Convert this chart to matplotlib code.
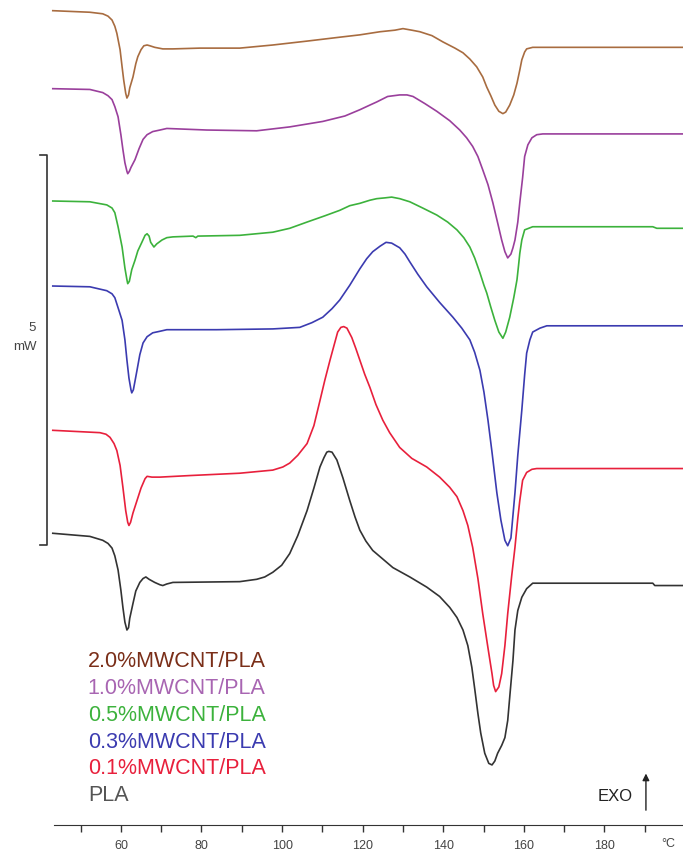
import matplotlib
matplotlib.use('Agg')
import matplotlib.pyplot as plt

plt.rcParams['font.family'] = ['Liberation Sans', 'DejaVu Sans']

# DSC heating curves: (temperature degC, heat flow mW relative to curve start)
labels = ['2.0%MWCNT/PLA', '1.0%MWCNT/PLA', '0.5%MWCNT/PLA',
          '0.3%MWCNT/PLA', '0.1%MWCNT/PLA', 'PLA']
line_colors = ['#a86c40', '#9a3f9c', '#3cb23c', '#3b3bb0', '#e8203c', '#333333']
text_colors = ['#7a2e18', '#a865b2', '#3cb23c', '#3b3bb0', '#e8203c', '#555555']

cnt_20 = [(43.1, 0), (52.3, -0.02), (55.5, -0.04), (56.8, -0.07), (57.8, -0.12), (58.5, -0.20),
          (59.0, -0.29), (59.8, -0.50), (60.3, -0.72), (60.7, -0.89), (61.2, -1.06), (61.5, -1.12),
          (61.9, -1.08), (62.2, -0.99), (63.0, -0.85), (63.7, -0.68), (64.2, -0.59), (65.0, -0.50),
          (65.7, -0.45), (66.5, -0.44), (67.2, -0.45), (68.4, -0.47), (70.4, -0.49), (72.9, -0.49),
          (79.6, -0.48), (89.5, -0.48), (97.7, -0.44), (106.2, -0.39), (114.3, -0.34), (119.3, -0.31),
          (124.3, -0.27), (128.0, -0.25), (130.0, -0.23), (132.2, -0.25), (134.2, -0.27), (137.2, -0.32),
          (139.9, -0.40), (142.9, -0.48), (144.9, -0.54), (146.6, -0.62), (148.3, -0.72), (149.8, -0.85),
          (150.8, -0.98), (151.8, -1.09), (152.8, -1.21), (153.8, -1.29), (154.8, -1.32), (155.5, -1.30),
          (156.5, -1.21), (157.5, -1.08), (158.3, -0.93), (159.0, -0.76), (159.5, -0.63), (160.2, -0.53),
          (160.7, -0.49), (162.2, -0.47), (168.9, -0.47), (199.4, -0.47)]

cnt_10 = [(43.1, 0), (52.3, -0.01), (55.5, -0.05), (56.8, -0.09), (57.8, -0.14), (58.5, -0.23),
          (59.3, -0.36), (60.0, -0.59), (60.5, -0.78), (61.0, -0.95), (61.5, -1.06), (61.7, -1.09),
          (62.1, -1.06), (62.5, -1.01), (63.5, -0.91), (64.5, -0.77), (65.5, -0.65), (66.5, -0.59),
          (67.9, -0.55), (69.7, -0.53), (71.4, -0.51), (81.3, -0.53), (93.7, -0.54), (101.9, -0.49),
          (110.1, -0.42), (115.6, -0.35), (119.3, -0.27), (121.8, -0.21), (123.5, -0.17), (126.2, -0.10),
          (129.2, -0.08), (131.0, -0.08), (132.5, -0.10), (135.4, -0.19), (138.4, -0.29), (141.6, -0.41),
          (144.1, -0.53), (145.8, -0.63), (147.3, -0.74), (148.6, -0.87), (149.8, -1.04), (151.1, -1.23),
          (152.3, -1.46), (153.5, -1.72), (154.5, -1.94), (155.3, -2.09), (156.0, -2.17), (156.8, -2.12),
          (157.3, -2.04), (157.8, -1.94), (158.5, -1.71), (159.0, -1.46), (159.7, -1.14), (160.2, -0.87),
          (161.0, -0.72), (162.0, -0.63), (163.2, -0.59), (164.7, -0.58), (199.4, -0.58)]

cnt_05 = [(43.1, 0), (52.3, -0.01), (56.5, -0.05), (57.8, -0.09), (58.5, -0.15), (59.3, -0.33),
          (60.3, -0.59), (61.0, -0.86), (61.5, -1.01), (61.7, -1.06), (62.1, -1.03), (62.7, -0.88),
          (63.5, -0.76), (64.2, -0.64), (65.2, -0.53), (66.0, -0.44), (66.5, -0.42), (67.0, -0.45),
          (67.4, -0.53), (68.2, -0.59), (68.9, -0.55), (70.2, -0.50), (71.4, -0.47), (72.9, -0.46),
          (77.9, -0.45), (78.6, -0.47), (79.1, -0.45), (89.5, -0.44), (97.7, -0.40), (101.9, -0.35),
          (106.2, -0.27), (110.6, -0.19), (114.3, -0.12), (116.8, -0.06), (119.3, -0.03), (121.8, 0.01),
          (123.5, 0.03), (125.5, 0.04), (127.2, 0.05), (129.2, 0.03), (131.7, -0.01), (134.9, -0.09),
          (138.4, -0.18), (141.1, -0.27), (143.4, -0.37), (145.1, -0.47), (146.6, -0.59), (147.8, -0.73),
          (149.1, -0.92), (150.1, -1.08), (150.8, -1.18), (151.8, -1.36), (152.8, -1.53), (153.8, -1.68),
          (154.8, -1.76), (155.5, -1.68), (156.5, -1.49), (157.5, -1.24), (158.3, -1.01), (158.7, -0.82),
          (159.0, -0.67), (159.5, -0.50), (160.2, -0.37), (161.2, -0.35), (162.2, -0.33), (192.0, -0.33),
          (193.0, -0.35), (199.4, -0.35)]

cnt_03 = [(43.1, 0), (52.3, -0.01), (56.5, -0.06), (57.8, -0.10), (58.5, -0.15), (59.5, -0.31),
          (60.3, -0.44), (61.0, -0.69), (61.5, -0.95), (62.0, -1.18), (62.5, -1.33), (62.7, -1.37),
          (63.1, -1.33), (63.5, -1.22), (64.0, -1.08), (64.7, -0.88), (65.5, -0.73), (66.5, -0.65),
          (67.9, -0.60), (69.7, -0.58), (71.4, -0.56), (83.8, -0.56), (97.7, -0.55), (104.4, -0.53),
          (107.4, -0.47), (110.1, -0.40), (112.4, -0.29), (114.3, -0.18), (116.8, 0.01), (119.3, 0.22),
          (121.0, 0.35), (122.5, 0.44), (124.3, 0.51), (125.8, 0.56), (127.2, 0.55), (129.2, 0.49),
          (130.5, 0.41), (131.7, 0.31), (133.7, 0.15), (135.9, -0.01), (139.1, -0.21), (142.4, -0.40),
          (144.6, -0.54), (146.6, -0.69), (147.8, -0.85), (149.1, -1.08), (150.1, -1.36), (151.1, -1.72),
          (152.1, -2.13), (153.3, -2.65), (154.3, -3.00), (155.3, -3.26), (156.0, -3.33), (156.8, -3.23),
          (157.8, -2.65), (158.5, -2.17), (159.5, -1.59), (160.2, -1.14), (160.7, -0.86), (161.5, -0.69),
          (162.2, -0.59), (164.0, -0.54), (165.7, -0.51), (199.4, -0.51)]

cnt_01 = [(43.1, 0), (54.8, -0.03), (56.3, -0.05), (57.3, -0.09), (58.3, -0.17), (59.0, -0.26),
          (59.8, -0.45), (60.5, -0.73), (61.2, -1.03), (61.7, -1.18), (62.0, -1.22), (62.4, -1.18),
          (63.0, -1.06), (64.0, -0.90), (65.0, -0.74), (66.0, -0.62), (66.5, -0.59), (67.7, -0.60),
          (69.7, -0.60), (77.1, -0.58), (89.5, -0.55), (97.7, -0.51), (100.2, -0.47), (101.9, -0.42),
          (103.9, -0.32), (106.2, -0.17), (107.9, 0.06), (109.4, 0.38), (110.6, 0.64), (111.9, 0.90),
          (112.9, 1.09), (113.8, 1.26), (114.6, 1.32), (115.3, 1.33), (116.1, 1.31), (117.3, 1.19),
          (118.3, 1.05), (119.3, 0.90), (120.5, 0.72), (121.8, 0.55), (123.3, 0.33), (125.0, 0.13),
          (126.7, -0.03), (129.2, -0.22), (132.2, -0.36), (135.9, -0.47), (139.1, -0.60), (141.6, -0.73),
          (143.4, -0.85), (144.9, -1.03), (146.1, -1.22), (147.3, -1.50), (148.6, -1.90), (149.8, -2.35),
          (151.1, -2.79), (152.1, -3.12), (152.5, -3.27), (153.0, -3.35), (153.8, -3.29), (154.5, -3.12),
          (155.3, -2.76), (156.0, -2.35), (157.0, -1.86), (157.8, -1.50), (158.5, -1.13), (159.0, -0.90),
          (159.7, -0.64), (160.7, -0.54), (162.0, -0.50), (163.2, -0.49), (199.4, -0.49)]

pla = [(43.1, 0), (52.3, -0.04), (55.5, -0.09), (56.8, -0.13), (57.8, -0.19), (58.5, -0.29),
       (59.3, -0.47), (60.0, -0.73), (60.5, -0.95), (61.0, -1.14), (61.5, -1.24), (61.9, -1.21),
       (62.2, -1.09), (63.0, -0.90), (63.7, -0.74), (64.7, -0.63), (65.5, -0.58), (66.2, -0.56),
       (67.0, -0.59), (68.4, -0.63), (69.7, -0.66), (70.4, -0.67), (71.4, -0.65), (72.9, -0.63),
       (89.5, -0.62), (93.7, -0.59), (95.7, -0.56), (97.7, -0.50), (99.9, -0.41), (101.9, -0.26),
       (103.9, -0.03), (106.2, 0.29), (107.9, 0.58), (109.4, 0.85), (110.4, 0.97), (111.1, 1.04),
       (111.6, 1.05), (112.4, 1.04), (113.6, 0.94), (115.1, 0.71), (116.8, 0.42), (118.1, 0.21),
       (119.3, 0.04), (120.8, -0.10), (122.5, -0.22), (125.0, -0.33), (127.5, -0.44), (131.7, -0.56),
       (135.9, -0.69), (139.1, -0.81), (141.6, -0.95), (143.4, -1.08), (144.9, -1.24), (146.1, -1.44),
       (147.1, -1.72), (147.8, -1.99), (148.6, -2.31), (149.3, -2.56), (150.3, -2.82), (151.3, -2.95),
       (152.1, -2.97), (152.8, -2.92), (153.5, -2.82), (154.5, -2.72), (155.3, -2.62), (156.0, -2.40),
       (156.5, -2.10), (157.3, -1.63), (157.8, -1.24), (158.5, -0.99), (159.5, -0.82), (160.7, -0.71),
       (162.2, -0.64), (177.1, -0.64), (192.0, -0.64), (192.5, -0.67), (199.4, -0.67)]

curves = [cnt_20, cnt_10, cnt_05, cnt_03, cnt_01, pla]
offsets = [10.44, 9.44, 8.00, 6.91, 5.06, 3.74]

fig = plt.figure(figsize=(6.83, 8.56), dpi=100)
ax = fig.add_axes([0, 31 / 856, 1, 825 / 856])

for pts, off, c in zip(curves, offsets, line_colors):
    t = [p[0] for p in pts]
    hf = [p[1] + off for p in pts]
    ax.plot(t, hf, color=c, lw=1.2)

ax.set_xlim(30, 199.5)
ax.set_ylim(0, 825 / 78)

for s in ['top', 'left', 'right']:
    ax.spines[s].set_visible(False)
ax.spines['bottom'].set_bounds(43.4, 199.5)
ax.spines['bottom'].set_color('#333333')
ax.set_xticks(range(60, 181, 20))
ax.set_xticks(range(50, 191, 20), minor=True)
ax.tick_params(axis='x', which='both', direction='out', length=5, width=1,
               color='#333333', labelsize=9, labelcolor='#444444', pad=6)
ax.set_yticks([])
ax.text(195.8, -0.24, '°C', fontsize=9, color='#444444', ha='center', va='center')

# 5 mW scale bar
ax.plot([39.9, 41.6, 41.6, 39.9], [8.59, 8.59, 3.59, 3.59], color='#333333', lw=1.2)
ax.text(39.0, 6.37, '5', fontsize=9.5, color='#444444', ha='right', va='center')
ax.text(39.0, 6.13, 'mW', fontsize=9.5, color='#444444', ha='right', va='center')

# legend as coloured text
for i, (lab, c) in enumerate(zip(labels, text_colors)):
    ax.text(51.8, 2.09 - i * 0.343, lab, fontsize=15.5, color=c, ha='left', va='center')

ax.text(187.0, 0.36, 'EXO', fontsize=12, color='#222222', ha='right', va='center')
ax.annotate('', xy=(190.3, 0.66), xytext=(190.3, 0.19),
            arrowprops=dict(arrowstyle='-|>', color='#222222', lw=1.0,
                            mutation_scale=10, shrinkA=0, shrinkB=0))

fig.savefig('out.png', dpi=100)
